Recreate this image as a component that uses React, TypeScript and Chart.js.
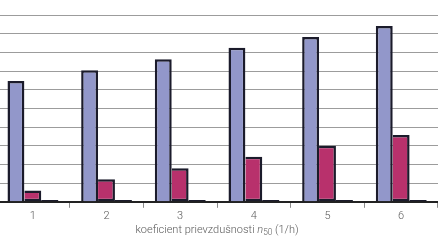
import React, { useEffect, useRef } from "react";
import { Chart, registerables } from "chart.js";

Chart.register(...registerables);

const categories = ["1", "2", "3", "4", "5", "6"];
const seriesBlue = [6.47, 7.04, 7.63, 8.25, 8.82, 9.41];
const seriesPink = [0.61, 1.21, 1.8, 2.41, 3.0, 3.58];
const seriesDark = [0.1, 0.1, 0.1, 0.1, 0.1, 0.1];
const titleParts = ["koeficient prievzdušnosti ", "n", "50", " (1/h)"];

const FONT = "Roboto";
const TEXT = "#5a5a5a";
const BORDER = "#1b1b2b";

const titlePlugin = {
  id: "xtitle",
  afterDraw(chart: any) {
    const ctx = chart.ctx;
    const area = chart.chartArea;
    const y = 230;
    const size = 11;
    const normal = `300 ${size}px ${FONT}`;
    const ital = `italic 300 ${size}px ${FONT}`;
    const sub = `300 ${size * 0.75}px ${FONT}`;
    ctx.save();
    ctx.textBaseline = "middle";
    ctx.fillStyle = TEXT;
    const widths: number[] = [];
    ctx.font = normal; widths.push(ctx.measureText(titleParts[0]).width);
    ctx.font = ital; widths.push(ctx.measureText(titleParts[1]).width);
    ctx.font = sub; widths.push(ctx.measureText(titleParts[2]).width);
    ctx.font = normal; widths.push(ctx.measureText(titleParts[3]).width);
    const total = widths.reduce((a, b) => a + b, 0);
    let x = (area.left + area.right) / 2 - total / 2;
    ctx.textAlign = "left";
    ctx.font = normal; ctx.fillText(titleParts[0], x, y); x += widths[0];
    ctx.font = ital; ctx.fillText(titleParts[1], x, y); x += widths[1];
    ctx.font = sub; ctx.fillText(titleParts[2], x, y + 2.5); x += widths[2];
    ctx.font = normal; ctx.fillText(titleParts[3], x, y);
    ctx.restore();
  },
};

export default function App() {
  const ref = useRef<HTMLCanvasElement>(null);
  useEffect(() => {
    if (!ref.current) return;
    const chart = new Chart(ref.current, {
      type: "bar",
      data: {
        labels: categories,
        datasets: [
          {
            data: seriesBlue,
            backgroundColor: "#9297ca",
            borderColor: BORDER,
            borderWidth: 2.5,
            borderSkipped: "bottom",
          },
          {
            data: seriesPink,
            backgroundColor: "#b8316c",
            borderColor: BORDER,
            borderWidth: 2.5,
            borderSkipped: "left",
          },
          {
            data: seriesDark,
            backgroundColor: BORDER,
            borderWidth: 0,
          },
        ],
      },
      options: {
        animation: false,
        responsive: false,
        maintainAspectRatio: false,
        layout: { padding: { top: 15, bottom: 20, left: 0, right: 1 } },
        plugins: { legend: { display: false }, tooltip: { enabled: false } },
        datasets: { bar: { categoryPercentage: 0.688, barPercentage: 1 } },
        scales: {
          x: {
            grid: {
              offset: true,
              drawOnChartArea: false,
              color: "#8a8a8a",
              tickLength: 6,
            },
            border: { display: true, color: "#222", width: 2 },
            ticks: {
              color: TEXT,
              font: { family: FONT, size: 11, weight: 300 },
              padding: 2,
            },
          },
          y: {
            min: 0,
            max: 10,
            ticks: { display: false, stepSize: 1 },
            grid: { color: "#9c9c9c", lineWidth: 1, drawTicks: false },
            border: { display: false },
          },
        },
      },
      plugins: [titlePlugin],
    });
    return () => chart.destroy();
  }, []);
  return (
    <div style={{ position: "fixed", inset: 0, overflow: "hidden", background: "#fff" }}>
      <canvas
        ref={ref}
        width={443}
        height={245}
        style={{ position: "absolute", left: -4, top: 0, width: 443, height: 245 }}
      />
    </div>
  );
}
